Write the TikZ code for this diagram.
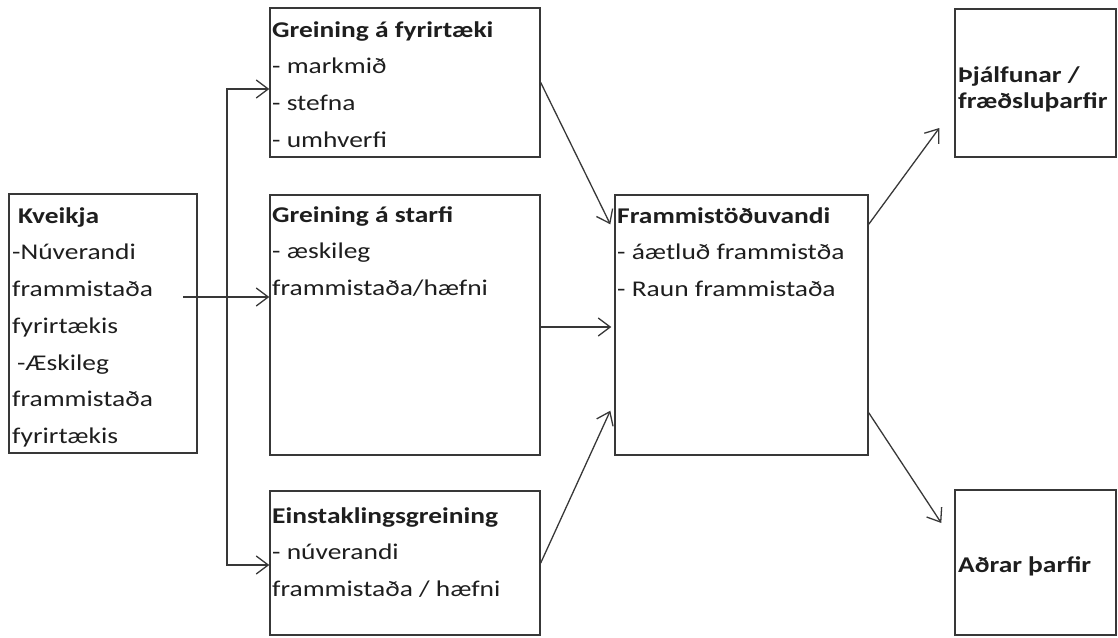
\documentclass[tikz,border=0pt]{standalone}
\usepackage{fontspec}
\setmainfont{Carlito}[FakeStretch=1.22]
\usetikzlibrary{arrows.meta}
\definecolor{ink}{HTML}{1E1E1E}
\definecolor{edge}{HTML}{383838}
% strut that fixes the height of the first text line
\newcommand{\firststrut}{\rule{0pt}{19pt}}
\begin{document}
\begin{tikzpicture}[x=1pt,y=-1pt,
  box/.style={draw=edge, line width=1.4pt, rectangle, inner sep=0pt},
  txt/.style={anchor=north west, inner sep=0pt, align=left, text=ink,
              font=\fontsize{22.5}{36.7}\selectfont},
  txttight/.style={txt, font=\fontsize{22.5}{26}\selectfont},
  barb/.tip={Straight Barb[length=12pt,width=18pt,line width=1.3pt]},
  arr/.style={draw=edge, line width=1.3pt, -barb},
  arrboth/.style={draw=edge, line width=1.3pt, barb-barb}]
\useasboundingbox (0,0) rectangle (1118,637);

% boxes
\node[box, minimum width=188pt, minimum height=259pt] (K)  at (103,323.5) {};
\node[box, minimum width=270pt, minimum height=149pt] (GF) at (405,82.5) {};
\node[box, minimum width=270pt, minimum height=260pt] (GS) at (405,325) {};
\node[box, minimum width=270pt, minimum height=144pt] (E)  at (405,563) {};
\node[box, minimum width=253pt, minimum height=260pt] (F)  at (741.5,325) {};
\node[box, minimum width=161pt, minimum height=148pt] (T)  at (1035.5,83) {};
\node[box, minimum width=161pt, minimum height=145pt] (A)  at (1035.5,562.5) {};

% box texts
\node[txt] (Ktxt) at (12,204) {\firststrut\hspace*{6pt}\textbf{Kveikja}\\
  -Núverandi\\ frammistaða\\ fyrirtækis\\ \hspace*{5pt}-Æskileg\\ frammistaða\\ fyrirtækis};
\node[txt] (GFtxt) at (272,18) {\firststrut\textbf{Greining á fyrirtæki}\\
  - markmið\\ - stefna\\ - umhverfi};
\node[txt] (GStxt) at (272,203) {\firststrut\textbf{Greining á starfi}\\
  - æskileg\\ frammistaða/hæfni};
\node[txt] (Etxt) at (272,504) {\firststrut\textbf{Einstaklingsgreining}\\
  - núverandi\\ frammistaða / hæfni};
\node[txt] (Ftxt) at (617,204) {\firststrut\textbf{Frammistöðuvandi}\\
  - áætluð frammistða\\ - Raun frammistaða};
\node[txttight] (Ttxt) at (958,63) {\firststrut\textbf{Þjálfunar /}\\ \textbf{fræðsluþarfir}};
\node[txt, anchor=base west] (Atxt) at (958,572) {\textbf{Aðrar þarfir}};

% connectors
\coordinate (busT) at (227,89);
\coordinate (busB) at (227,565);
\coordinate (kout) at (183,297);
\draw[arrboth] (E.west |- busB) -- (busB) -- (busT) -- (GF.west |- busT);
\draw[arr] (kout) -- (GS.west |- kout);

\draw[arr] (GF.east) -- ([xshift=-4pt,yshift=-30pt]F.north west);
\draw[arr] ([yshift=-2pt]GS.east) -- ([xshift=-3pt,yshift=-2pt]F.west);
\draw[arr] (E.east) -- ([xshift=-4pt,yshift=45pt]F.south west);

\draw[arr] ([yshift=-30pt]F.north east) -- ([xshift=-15pt,yshift=-45pt]T.west);
\draw[arr] ([yshift=43pt]F.south east) -- ([xshift=-13pt,yshift=39.5pt]A.west);
\end{tikzpicture}
\end{document}
